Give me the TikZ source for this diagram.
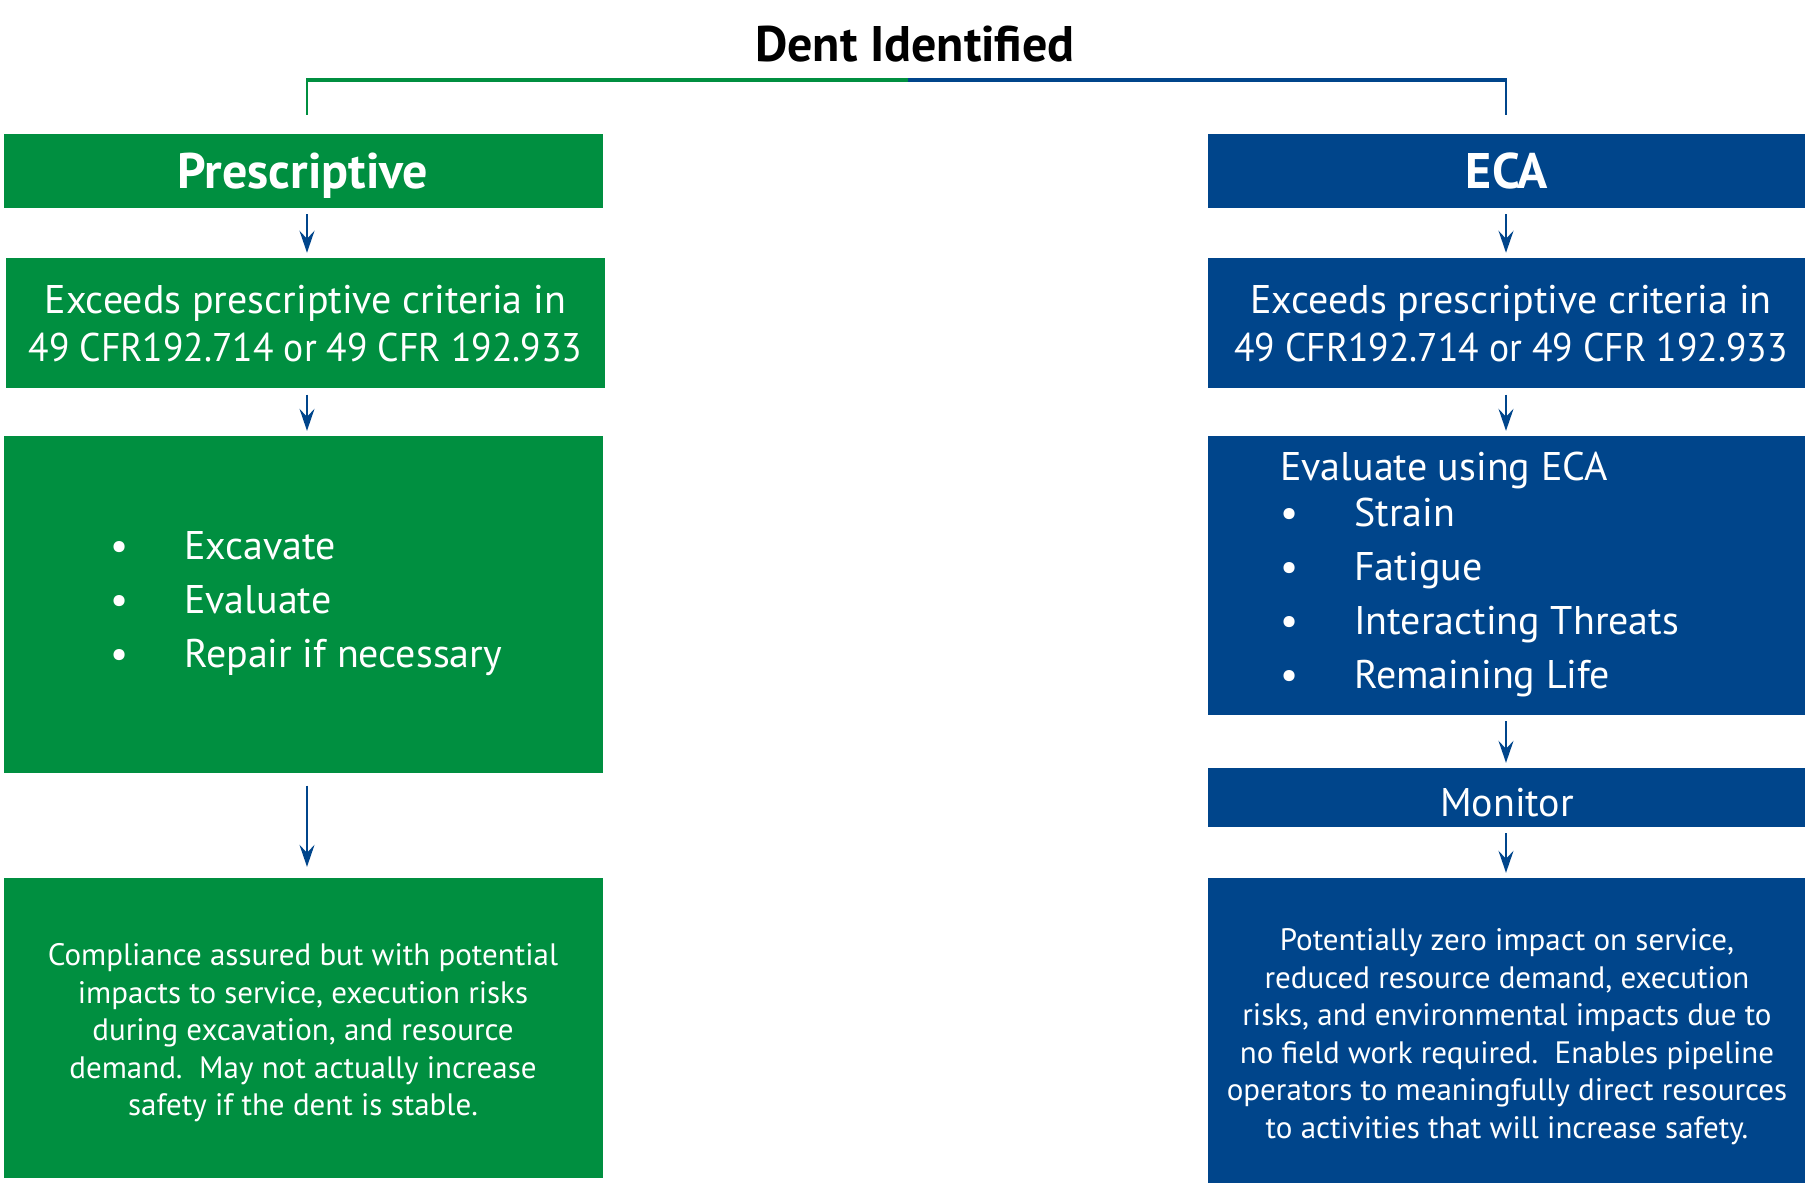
\documentclass[tikz,border=0pt]{standalone}
\usepackage{fontspec}
\setmainfont{PT Sans}
\usetikzlibrary{arrows.meta, positioning}
\definecolor{presgreen}{RGB}{0,143,64}
\definecolor{ecablue}{RGB}{0,69,139}
\newcommand{\headfont}{\fontsize{50}{60}\selectfont\bfseries}
\newcommand{\bodyfont}{\fontsize{40}{48}\selectfont}
\newcommand{\listfont}{\fontsize{40}{54}\selectfont}
\newcommand{\notefont}{\fontsize{31}{37.5}\selectfont}
\newcommand{\bul}[1]{\makebox[74pt][l]{\textbullet}#1}
\newcommand{\cfrline}{\addfontfeature{FakeStretch=0.94}49 CFR192.714 or 49 CFR 192.933}

\begin{document}
\begin{tikzpicture}[x=1pt, y=-1pt,
  box/.style={inner sep=0pt, text=white, align=center, minimum width=599pt},
  presbox/.style={box, fill=presgreen},
  ecabox/.style={box, fill=ecablue, minimum width=598pt},
  boxtext/.style={text=white, inner sep=0pt},
  flow/.style={draw=ecablue, line width=2pt, -{Stealth[length=22pt,width=15pt,inset=8pt]},
    shorten <=6pt, shorten >=5pt}]
\useasboundingbox (0,0) rectangle (1805,1200);
% title and bracket
\node [font=\headfont, anchor=base] (dent) at (915,61) {Dent Identified};
\coordinate (split) at (908,79.5);
\coordinate (lend)  at (305.8,79.5);
\coordinate (rend)  at (1507.2,79.5);
\coordinate (ldrop) at (307,115);
\coordinate (rdrop) at (1506,115);
\draw [presgreen, line width=4pt] (split) -- (lend);
\draw [ecablue, line width=4pt] (split) -- (rend);
\draw [presgreen, line width=2.5pt] (lend -| ldrop) -- (ldrop);
\draw [ecablue, line width=2.5pt] (rend -| rdrop) -- (rdrop);
% prescriptive column
\node [presbox, minimum height=74.5pt, font=\headfont, text height=36pt, text depth=0pt] (presc) at (303,170.8) {Prescriptive};
\node [presbox, minimum height=130.5pt, font=\bodyfont] (lcrit) at (305.4,323.2) {Exceeds prescriptive criteria in\\\cfrline};
\node [presbox, minimum height=337pt] (lact) at (303,604.5) {};
\node [boxtext, font=\listfont, align=left, anchor=north west] (lacttext) at (110,531)
  {\bul{Excavate}\\\bul{Evaluate}\\\bul{Repair if necessary}};
\node [presbox, minimum height=300pt] (lnote) at (303,1028) {};
\node [boxtext, font=\notefont, align=center] (lnotetext) at ([yshift=-5pt]lnote.center)
  {Compliance assured but with potential\\impacts to service, execution risks\\during excavation, and resource\\demand.\ \ May not actually increase\\safety if the dent is stable.};
% eca column
\node [ecabox, minimum height=74.5pt, font=\headfont, text height=36pt, text depth=0pt] (eca) at (1507,170.8) {ECA};
\node [ecabox, minimum height=130.5pt, minimum width=607pt, font=\bodyfont] (rcrit) at (1511,323.2) {Exceeds prescriptive criteria in\\\cfrline};
\node [ecabox, minimum height=279pt] (ract) at (1507,575.5) {};
\node [boxtext, font=\listfont, align=left, anchor=north west] (racttext) at (1280,452)
  {Evaluate using ECA\\[-8pt]\bul{Strain}\\\bul{Fatigue}\\\bul{Interacting Threats}\\\bul{Remaining Life}};
\node [ecabox, minimum height=59pt, font=\bodyfont, text height=37pt, text depth=0pt] (monitor) at (1507,797.5) {Monitor};
\node [ecabox, minimum height=305pt] (rnote) at (1507,1030.5) {};
\node [boxtext, font=\notefont, align=center] (rnotetext) at ([yshift=-6pt]rnote.center)
  {Potentially zero impact on service,\\reduced resource demand, execution\\risks, and environmental impacts due to\\no field work required.\ \ Enables pipeline\\operators to meaningfully direct resources\\to activities that will increase safety.};
% arrows
\draw [flow] (presc.south -| ldrop) -- (lcrit.north -| ldrop);
\draw [flow] (lcrit.south -| ldrop) -- (lact.north -| ldrop);
\draw [flow, shorten <=12.5pt, shorten >=11pt] (lact.south -| ldrop) -- (lnote.north -| ldrop);
\draw [flow] (eca.south -| rdrop) -- (rcrit.north -| rdrop);
\draw [flow] (rcrit.south -| rdrop) -- (ract.north -| rdrop);
\draw [flow] (ract.south -| rdrop) -- (monitor.north -| rdrop);
\draw [flow] (monitor.south -| rdrop) -- (rnote.north -| rdrop);
\end{tikzpicture}
\end{document}
